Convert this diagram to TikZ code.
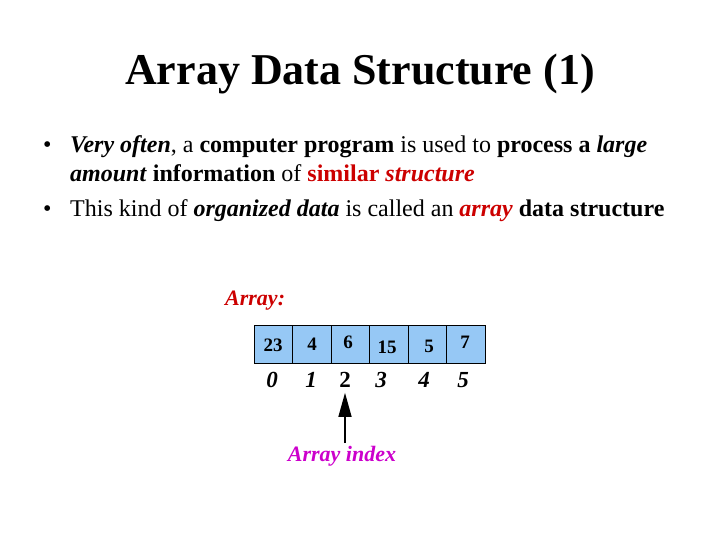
\documentclass[tikz,border=0pt]{standalone}
\usepackage{fontspec}
\setmainfont{Liberation Serif}
\usetikzlibrary{arrows.meta}
\definecolor{cellblue}{RGB}{150,200,245}
\definecolor{darkred}{RGB}{204,0,0}
\definecolor{magentaink}{RGB}{204,0,204}
\tikzset{
  cellbox/.style={draw,fill=cellblue,minimum width=38.5pt,minimum height=38pt,inner sep=0pt,line width=0.8pt},
  valtext/.style={font=\fontsize{19}{21}\selectfont\bfseries,inner sep=0pt},
  idxtext/.style={font=\fontsize{23}{26}\selectfont\bfseries\itshape,inner sep=0pt},
  bodyline/.style={anchor=base west,inner sep=0pt,font=\fontsize{24}{28}\selectfont}
}
\begin{document}
\begin{tikzpicture}[x=1pt,y=-1pt]
\useasboundingbox (0,0) rectangle (720,540);

% title
\node[font=\fontsize{44}{50}\selectfont\bfseries,anchor=base,inner sep=0pt] (title) at (360,85) {Array Data Structure (1)};

% bullets
\node[bodyline] (b1) at (43,153) {\textbullet};
\node[bodyline] (l1) at (70,153) {\textbf{\textit{Very often}}, a \textbf{computer program} is used to \textbf{process} \textbf{a} \textbf{\textit{large}}};
\node[bodyline] (l2) at (70,182) {\textbf{\textit{amount}} \textbf{information} of \textcolor{darkred}{\textbf{similar} \textbf{\textit{structure}}}};
\node[bodyline] (b2) at (43,216) {\textbullet};
\node[bodyline] (l3) at (70,216) {This kind of \textbf{\textit{organized data}} is called an \textcolor{darkred}{\textbf{\textit{array}}} \textbf{data structure}};

% the array
\node[anchor=west,inner sep=0pt,text=darkred,font=\fontsize{22}{24}\selectfont\bfseries\itshape] (arrlabel) at (225,301) {Array:};

\node[cellbox] (c0) at (273.5,344) {};
\node[cellbox] (c1) at (312,344) {};
\node[cellbox] (c2) at (350.5,344) {};
\node[cellbox] (c3) at (389,344) {};
\node[cellbox] (c4) at (427.5,344) {};
\node[cellbox] (c5) at (466,344) {};

\node[valtext] (v0) at (273,345) {23};
\node[valtext] (v1) at (312,344) {4};
\node[valtext] (v2) at (348,342) {6};
\node[valtext] (v3) at (387,347) {15};
\node[valtext] (v4) at (429,346) {5};
\node[valtext] (v5) at (465,342) {7};

\node[idxtext] (i0) at (272,380) {0};
\node[idxtext] (i1) at (311,380) {1};
\node[idxtext,font=\fontsize{23}{26}\selectfont\bfseries] (i2) at (345,380) {2};
\node[idxtext] (i3) at (381,380) {3};
\node[idxtext] (i4) at (424,380) {4};
\node[idxtext] (i5) at (463,380) {5};

\node[inner sep=0pt,text=magentaink,font=\fontsize{22}{24}\selectfont\bfseries\itshape] (idxlabel) at (342,456) {Array index};
\coordinate (tail) at (345,443);

\draw[-{Triangle[width=13pt,length=24pt]},line width=1.4pt] (tail) -- ([yshift=-5pt]i2.south);
\end{tikzpicture}
\end{document}
